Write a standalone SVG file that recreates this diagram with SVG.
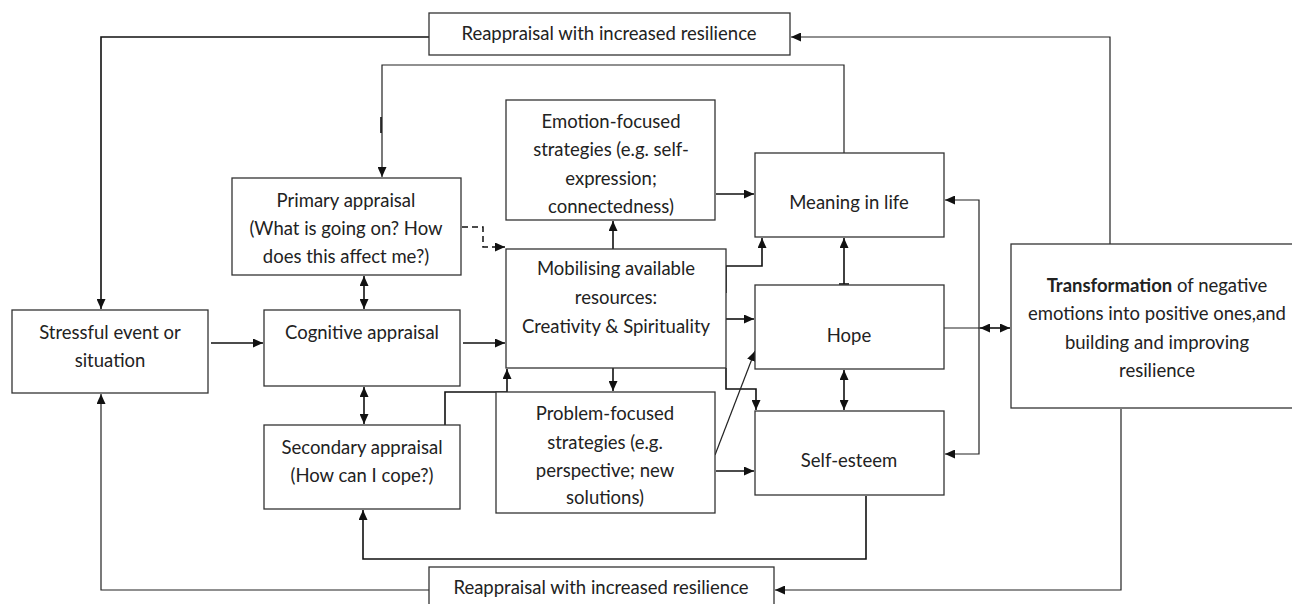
<svg xmlns="http://www.w3.org/2000/svg" width="1292" height="604" viewBox="0 0 1292 604">
<defs>
<marker id="ah" markerUnits="userSpaceOnUse" markerWidth="11" markerHeight="9" refX="10" refY="4.5" orient="auto-start-reverse" viewBox="0 0 11 9">
<path d="M0,0 L10,4.5 L0,9 z" fill="#111"/>
</marker>
</defs>
<style>
.box{fill:#fff;stroke:#333;stroke-width:1.3}
.c{fill:none;stroke:#111;stroke-width:1.6}
.thin{fill:none;stroke:#222;stroke-width:1.2}
.d{fill:none;stroke:#111;stroke-width:1.5;stroke-dasharray:6,4}
text{font-family:Lato,"Liberation Sans",sans-serif;font-size:18.5px;fill:#222;text-anchor:middle}
.b{font-weight:bold}
</style>
<rect width="1292" height="604" fill="#fff"/>
<g id="connectors">
<path class="c" d="M429,37 H101 V309" marker-end="url(#ah)"/>
<path class="thin" d="M1110,244 V37 H791" marker-end="url(#ah)"/>
<path class="thin" d="M844,153 V65 H382 V177" marker-end="url(#ah)"/>
<path class="c" d="M381,117 V133"/>
<path class="c" d="M211,343 H263" marker-end="url(#ah)"/>
<path class="c" d="M364,276 V309" marker-start="url(#ah)" marker-end="url(#ah)"/>
<path class="c" d="M364,387 V424" marker-start="url(#ah)" marker-end="url(#ah)"/>
<path class="c" d="M463,343 H505" marker-end="url(#ah)"/>
<path class="d" d="M462,227 H483 V247 H505" marker-end="url(#ah)"/>
<path class="c" d="M445,425 V392 H507 V369" marker-end="url(#ah)"/>
<path class="c" d="M613,249 V221" marker-end="url(#ah)"/>
<path class="c" d="M613,368 V391" marker-end="url(#ah)"/>
<path class="c" d="M716,194 H754" marker-end="url(#ah)"/>
<path class="c" d="M726,293 V266 H762 V238" marker-end="url(#ah)"/>
<path class="c" d="M726,319 H754" marker-end="url(#ah)"/>
<path class="c" d="M726,368 V389 H756 V410" marker-end="url(#ah)"/>
<path class="thin" d="M715,455 L755,351" marker-end="url(#ah)"/>
<path class="c" d="M716,471 H754" marker-end="url(#ah)"/>
<path class="c" d="M844,284 V238" marker-end="url(#ah)"/>
<path class="c" d="M839,284 H849"/>
<path class="c" d="M844,370 V410" marker-start="url(#ah)" marker-end="url(#ah)"/>
<path class="thin" d="M944,328 H980"/>
<path class="c" d="M980,328 H1010" marker-start="url(#ah)" marker-end="url(#ah)"/>
<path class="thin" d="M979,328 V200 H945" marker-end="url(#ah)"/>
<path class="thin" d="M979,328 V454 H945" marker-end="url(#ah)"/>
<path class="c" d="M866,496 V559 H363 V510" marker-end="url(#ah)"/>
<path class="thin" d="M1121,409 V590 H775" marker-end="url(#ah)"/>
<path class="thin" d="M429,590 H101 V394" marker-end="url(#ah)"/>
</g>
<g id="reappraisal-top">
<rect class="box" x="429" y="13" width="361" height="42"/>
<text x="609" y="40">Reappraisal with increased resilience</text>
</g>
<g id="stressful">
<rect class="box" x="12" y="310" width="196" height="83"/>
<text x="110" y="339">Stressful event or</text>
<text x="110" y="367">situation</text>
</g>
<g id="primary">
<rect class="box" x="232" y="178" width="229" height="97"/>
<text x="346" y="207">Primary appraisal</text>
<text x="346" y="235">(What is going on? How</text>
<text x="346" y="263">does this affect me?)</text>
</g>
<g id="cognitive">
<rect class="box" x="264" y="310" width="196" height="76"/>
<text x="362" y="339">Cognitive appraisal</text>
</g>
<g id="secondary">
<rect class="box" x="264" y="425" width="196" height="84"/>
<text x="362" y="454">Secondary appraisal</text>
<text x="362" y="482">(How can I cope?)</text>
</g>
<g id="emotion">
<rect class="box" x="506" y="100" width="209" height="120"/>
<text x="611" y="128">Emotion-focused</text>
<text x="611" y="156">strategies (e.g. self-</text>
<text x="611" y="185">expression;</text>
<text x="611" y="213">connectedness)</text>
</g>
<g id="mobilising">
<rect class="box" x="506" y="249" width="220" height="119"/>
<text x="616" y="275">Mobilising available</text>
<text x="616" y="304">resources:</text>
<text x="616" y="333">Creativity &amp; Spirituality</text>
</g>
<g id="problem">
<rect class="box" x="496" y="392" width="219" height="121"/>
<text x="605" y="420">Problem-focused</text>
<text x="605" y="449">strategies (e.g.</text>
<text x="605" y="477">perspective; new</text>
<text x="605" y="504">solutions)</text>
</g>
<g id="meaning">
<rect class="box" x="755" y="153" width="189" height="84"/>
<text x="849" y="209">Meaning in life</text>
</g>
<g id="hope">
<rect class="box" x="755" y="285" width="189" height="84"/>
<text x="849" y="342">Hope</text>
</g>
<g id="self-esteem">
<rect class="box" x="755" y="411" width="189" height="84"/>
<text x="849" y="467">Self-esteem</text>
</g>
<g id="transformation">
<rect class="box" x="1011" y="244" width="290" height="164"/>
<text x="1157" y="292"><tspan class="b">Transformation</tspan> of negative</text>
<text x="1157" y="320">emotions into positive ones,and</text>
<text x="1157" y="349">building and improving</text>
<text x="1157" y="377">resilience</text>
</g>
<g id="reappraisal-bottom">
<rect class="box" x="429" y="567" width="345" height="50"/>
<text x="601" y="594">Reappraisal with increased resilience</text>
</g>
</svg>
